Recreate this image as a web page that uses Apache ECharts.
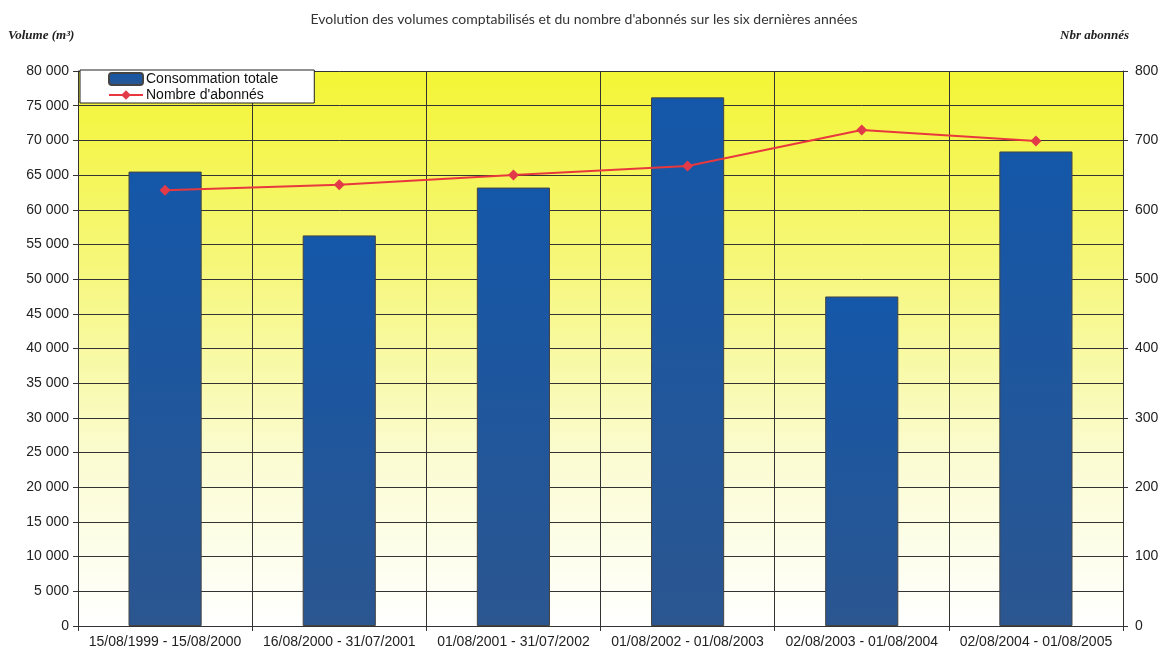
<!DOCTYPE html>
<html>
<head>
<meta charset="utf-8">
<script src="https://cdn.jsdelivr.net/npm/echarts@6/dist/echarts.min.js"></script>
<style>
  html, body { margin: 0; padding: 0; background: #fff; }
  #chart { width: 1168px; height: 655px; }
</style>
</head>
<body>
<div id="chart"></div>
<script>
// périodes
var periodes = [
  '15/08/1999 - 15/08/2000',
  '16/08/2000 - 31/07/2001',
  '01/08/2001 - 31/07/2002',
  '01/08/2002 - 01/08/2003',
  '02/08/2003 - 01/08/2004',
  '02/08/2004 - 01/08/2005'
];
// volumes en m3
var consommation = [65500, 56300, 63200, 76200, 47500, 68400];
// nombre d'abonnés
var abonnes = [628, 636, 650, 663, 715, 699];

var chart = echarts.init(document.getElementById('chart'));

function fmtVolume(v) {
  // 80000 -> "80 000"
  return String(v).replace(/\B(?=(\d{3})+(?!\d))/g, ' ');
}

chart.setOption({
  animation: false,
  backgroundColor: '#fff',
  textStyle: { fontFamily: 'Liberation Sans, Arial, sans-serif' },
  title: [
    {
      text: "Evolution des volumes comptabilisés et du nombre d'abonnés sur les six dernières années",
      left: 'center',
      top: 7,
      textStyle: { fontFamily: 'Lato, sans-serif', fontSize: 14, fontWeight: 'normal', color: '#333' }
    },
    {
      text: 'Volume (m³)',
      left: 3,
      top: 24,
      textStyle: { fontFamily: 'Liberation Serif, serif', fontStyle: 'italic', fontSize: 13, fontWeight: 'bold', color: '#222' }
    },
    {
      text: 'Nbr abonnés',
      right: 34,
      top: 24,
      textStyle: { fontFamily: 'Liberation Serif, serif', fontStyle: 'italic', fontSize: 13, fontWeight: 'bold', color: '#222' }
    }
  ],
  legend: {
    left: 80,
    top: 70,
    orient: 'vertical',
    backgroundColor: '#fff',
    borderColor: '#222',
    borderWidth: 1,
    padding: [2, 36, 1, 28],
    itemGap: 2,
    itemWidth: 34,
    itemHeight: 12,
    textStyle: { fontSize: 14, color: '#111', padding: [0, 0, 0, -2] },
    data: ['Consommation totale', "Nombre d'abonnés"]
  },
  grid: {
    left: 78,
    right: 45,
    top: 71,
    bottom: 29,
    show: true,
    borderWidth: 0,
    backgroundColor: new echarts.graphic.LinearGradient(0, 0, 0, 1, [
      { offset: 0, color: '#f3f535' },
      { offset: 0.35, color: '#f6f77a' },
      { offset: 0.7, color: '#fbfcd2' },
      { offset: 1, color: '#ffffff' }
    ])
  },
  xAxis: {
    type: 'category',
    data: periodes,
    boundaryGap: true,
    axisLine: { lineStyle: { color: '#333', width: 1 } },
    axisTick: { show: true, length: 5, lineStyle: { color: '#333' } },
    axisLabel: { fontSize: 14, color: '#222', margin: 9, interval: 0 },
    splitLine: { show: true, lineStyle: { color: '#333', width: 1 } }
  },
  yAxis: [
    {
      type: 'value',
      min: 0,
      max: 80000,
      interval: 5000,
      axisLine: { show: true, lineStyle: { color: '#333' } },
      axisTick: { show: true, length: 5, lineStyle: { color: '#333' } },
      axisLabel: { fontSize: 14, color: '#222', margin: 9, formatter: fmtVolume },
      splitLine: { show: true, lineStyle: { color: '#333', width: 1 } }
    },
    {
      type: 'value',
      min: 0,
      max: 800,
      interval: 100,
      axisLine: { show: true, lineStyle: { color: '#333' } },
      axisTick: { show: true, length: 5, lineStyle: { color: '#333' } },
      axisLabel: { fontSize: 14, color: '#222', margin: 12 },
      splitLine: { show: false }
    }
  ],
  series: [
    {
      name: 'Consommation totale',
      type: 'bar',
      barWidth: '42%',
      itemStyle: {
        color: new echarts.graphic.LinearGradient(0, 0, 0, 1, [
          { offset: 0, color: '#1457a9' },
          { offset: 1, color: '#2b5690' }
        ]),
        borderColor: '#444',
        borderWidth: 1
      },
      data: consommation
    },
    {
      name: "Nombre d'abonnés",
      type: 'line',
      yAxisIndex: 1,
      symbol: 'diamond',
      symbolSize: 11,
      lineStyle: { color: '#e8383d', width: 2 },
      itemStyle: { color: '#e23a48' },
      data: abonnes
    }
  ]
});
</script>
</body>
</html>
